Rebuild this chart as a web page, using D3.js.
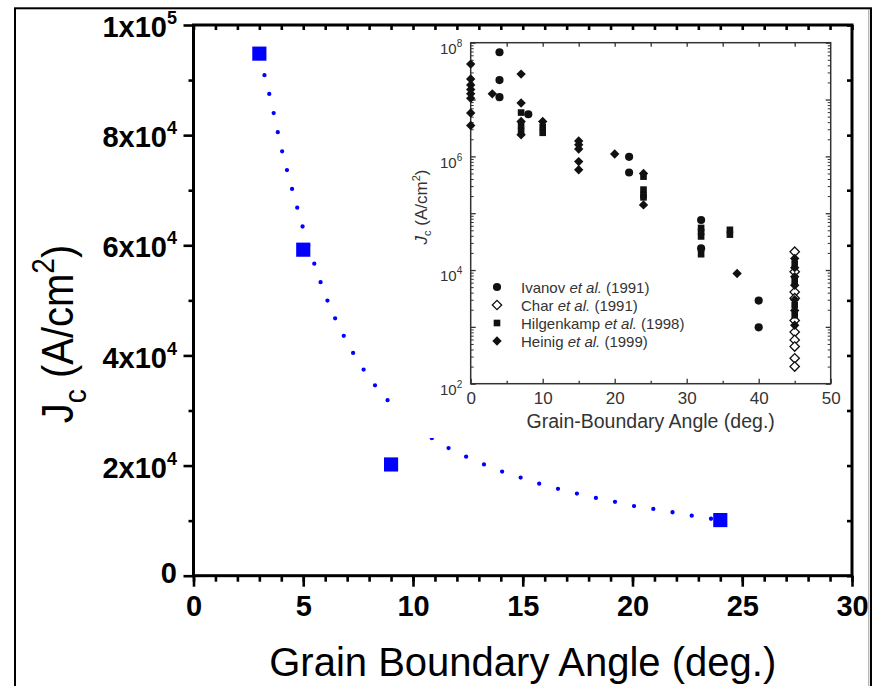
<!DOCTYPE html>
<html>
<head>
<meta charset="utf-8">
<script src="https://cdn.jsdelivr.net/npm/d3@7"></script>
<style>
body { margin: 0; background: #fff; }
svg { display: block; font-family: "Liberation Sans", Arial, Helvetica, sans-serif; }
</style>
</head>
<body>
<div id="chart-area"></div>
<script>
// main plot : Jc vs grain boundary angle
var angles = [3, 5, 9, 24];
var jcValues = [94800, 59200, 20200, 10100];

// dotted fit line
var fitAngles = [3, 3.5, 4, 4.5, 5, 5.5, 6, 7, 8, 9, 10, 11, 12, 13, 14, 15, 16, 17, 18, 19, 20, 21, 22, 23, 24];
var fitJc = [94300, 86700, 77700, 70100, 63000, 56700, 51000, 42400, 36000, 31200, 27600, 24600, 22400, 20600,
	19000, 17700, 16400, 15400, 14400, 13600, 12700, 12100, 11400, 10700, 10100];

var xTicks = [0, 5, 10, 15, 20, 25, 30];
var yTicks = [0, 20000, 40000, 60000, 80000, 100000];
var yTickText = ["0", "2x10", "4x10", "6x10", "8x10", "1x10"];
var yTickSup = ["", "4", "4", "4", "4", "5"];

// inset (log plot from literature)
var ivanovAngle = [4, 4, 4, 8, 22, 22, 32, 32, 40, 40];
var ivanovJc = [6.8e7, 2.2e7, 1.1e7, 5.5e6, 9.8e5, 5.2e5, 7.6e4, 2.4e4, 2.9e3, 9.8e2];

var charAngle = [45, 45, 45, 45, 45, 45, 45, 45, 45, 45];
var charJc = [2.1e4, 9.3e3, 4.1e3, 3.2e3, 1.3e3, 8.1e2, 5.9e2, 4.5e2, 2.8e2, 2.0e2];

var hilgenkampAngle = [7, 7, 7, 10, 10, 24, 24, 24, 24, 32, 32, 32, 32, 36, 36, 45, 45, 45, 45];
var hilgenkampJc = [5.9e6, 3.5e6, 2.8e6, 3.3e6, 2.6e6, 4.4e5, 2.6e5, 2.1e5, 1.9e5, 5.5e4, 4.7e4, 3.9e4, 1.9e4,
	5.1e4, 4.2e4, 1.3e4, 6.3e3, 2.4e3, 1.6e3];

var heinigAngle = [0, 0, 0, 0, 0, 0, 0, 0, 3, 7, 7, 7, 7, 10, 15, 15, 15, 15, 15, 20, 24, 24, 37,
	45, 45, 45, 45, 45, 45, 45];
var heinigJc = [4.2e7, 2.3e7, 1.8e7, 1.5e7, 1.26e7, 1.05e7, 5.8e6, 3.5e6, 1.26e7, 2.8e7, 8.7e6, 4.1e6, 2.4e6,
	4.1e6, 1.86e6, 1.6e6, 1.35e6, 8.1e5, 5.8e5, 1.1e6, 5.0e5, 1.4e5, 8.7e3,
	1.6e4, 1.1e4, 7.6e3, 5.4e3, 3.0e3, 1.95e3, 1.07e3];

var insetXTicks = [0, 10, 20, 30, 40, 50];
var insetYTicks = [1e2, 1e4, 1e6, 1e8];
var insetYSup = ["2", "4", "6", "8"];

var legendNames = ["Ivanov", "Char", "Hilgenkamp", "Heinig"];
var legendYears = ["(1991)", "(1991)", "(1998)", "(1999)"];

var width_svg = 880;
var height_svg = 686;

var svg = d3.select("#chart-area").append("svg")
	.attr("width", width_svg)
	.attr("height", height_svg);

// outer frame
svg.append("rect")
	.attr("x", 15).attr("y", 8.3)
	.attr("width", 856).attr("height", 720)
	.attr("fill", "none").attr("stroke", "#000").attr("stroke-width", 2);
svg.append("line")
	.attr("x1", 868.8).attr("x2", 868.8).attr("y1", 9).attr("y2", 686)
	.attr("stroke", "#999").attr("stroke-width", 1);

var x = d3.scaleLinear().domain([0, 30]).range([193.5, 852]);
var y = d3.scaleLinear().domain([0, 100000]).range([575.7, 25]);

// fit curve (dotted)
var fitLine = d3.line()
	.x(function(d, i){ return x(fitAngles[i]); })
	.y(function(d, i){ return y(fitJc[i]); })
	.curve(d3.curveMonotoneX);

svg.append("path")
	.datum(fitAngles)
	.attr("d", fitLine)
	.attr("fill", "none")
	.attr("stroke", "#0000ff")
	.attr("stroke-width", 4.3)
	.attr("stroke-linecap", "round")
	.attr("stroke-dasharray", "0 19.5");

// ---------- inset ----------
svg.append("rect")
	.attr("x", 398).attr("y", 30)
	.attr("width", 450).attr("height", 408)
	.attr("fill", "#fff");

var inset = svg.append("g");
var ink = "#333";

var ix = d3.scaleLinear().domain([0, 50]).range([470.7, 830.7]);
var iy = d3.scaleLog().domain([1e2, 1e8]).range([383.7, 42.7]);

function cleanAxis(g, col, sw){
	g.attr("font-family", null).attr("font-size", null);
	g.select(".domain").remove();
	g.selectAll(".tick line").attr("stroke", col).attr("stroke-width", sw);
}

inset.append("g")
	.attr("transform", "translate(0,383.7)")
	.call(d3.axisBottom(ix).tickValues(insetXTicks).tickSizeInner(-5).tickSizeOuter(0).tickPadding(8))
	.call(cleanAxis, ink, 1.3)
	.selectAll("text").attr("font-size", 17).attr("fill", ink);

inset.append("g")
	.attr("transform", "translate(0,383.7)")
	.call(d3.axisBottom(ix).tickValues([5, 15, 25, 35, 45]).tickSizeInner(-3).tickSizeOuter(0).tickFormat(""))
	.call(cleanAxis, ink, 1.3);

inset.append("g")
	.attr("transform", "translate(0,42.7)")
	.call(d3.axisTop(ix).tickValues([5, 10, 15, 20, 25, 30, 35, 40, 45]).tickSizeInner(-4).tickSizeOuter(0).tickFormat(""))
	.call(cleanAxis, ink, 1.3);

var majorLog = [];
var minorLog = [];
for (var p = 2; p < 8; p++) {
	majorLog.push(Math.pow(10, p));
	for (var k = 2; k < 10; k++) minorLog.push(k * Math.pow(10, p));
}
majorLog.push(1e8);

[["left", 470.7], ["right", 830.7]].forEach(function(s){
	var mk = s[0] == "left" ? d3.axisLeft : d3.axisRight;
	inset.append("g")
		.attr("transform", "translate(" + s[1] + ",0)")
		.call(mk(iy).tickValues(majorLog).tickSizeInner(-5).tickSizeOuter(0).tickFormat(""))
		.call(cleanAxis, ink, 1.3);
	inset.append("g")
		.attr("transform", "translate(" + s[1] + ",0)")
		.call(mk(iy).tickValues(minorLog).tickSizeInner(-3).tickSizeOuter(0).tickFormat(""))
		.call(cleanAxis, ink, 1);
});

// inset y tick labels 10^n
var iyLab = inset.append("g")
	.attr("transform", "translate(470.7,0)")
	.call(d3.axisLeft(iy).tickValues(insetYTicks).tickSize(0).tickPadding(8.5).tickFormat(""))
	.call(cleanAxis, ink, 0);
iyLab.selectAll("text")
	.attr("dy", "0.72em")
	.attr("font-size", 15)
	.attr("fill", ink)
	.each(function(d, i){
		var t = d3.select(this);
		t.append("tspan").text("10");
		t.append("tspan").attr("dy", -7).attr("font-size", 10).text(insetYSup[i]);
	});

inset.append("rect")
	.attr("x", ix(0)).attr("y", iy(1e8))
	.attr("width", ix(50) - ix(0)).attr("height", iy(1e2) - iy(1e8))
	.attr("fill", "none").attr("stroke", ink).attr("stroke-width", 1.5);

inset.append("text")
	.attr("x", (ix(0) + ix(50)) / 2).attr("y", 428)
	.attr("text-anchor", "middle")
	.attr("font-size", 19.5)
	.attr("fill", ink)
	.text("Grain-Boundary Angle (deg.)");

var iyTitle = inset.append("text")
	.attr("transform", "translate(427,207) rotate(-90)")
	.attr("text-anchor", "middle")
	.attr("font-size", 17)
	.attr("fill", ink);
iyTitle.append("tspan").attr("font-style", "italic").text("J");
iyTitle.append("tspan").attr("dy", 4).attr("font-size", 11).text("c");
iyTitle.append("tspan").attr("dy", -4).text(" (A/cm");
iyTitle.append("tspan").attr("dy", -7).attr("font-size", 11).text("2");
iyTitle.append("tspan").attr("dy", 7).text(")");

var circleSym = d3.symbol().type(d3.symbolCircle).size(52);
var squareSym = d3.symbol().type(d3.symbolSquare).size(44);
var diamondSym = d3.symbol().type(d3.symbolSquare).size(44);
var markFill = "#111";

inset.selectAll(".char")
	.data(charAngle)
	.enter()
	.append("path")
		.attr("class", "char")
		.attr("transform", function(d, i){ return "translate(" + ix(d) + "," + iy(charJc[i]) + ") rotate(45)"; })
		.attr("d", diamondSym)
		.attr("fill", "#fff")
		.attr("stroke", markFill)
		.attr("stroke-width", 1.3);

inset.selectAll(".hilg")
	.data(hilgenkampAngle)
	.enter()
	.append("path")
		.attr("class", "hilg")
		.attr("transform", function(d, i){ return "translate(" + ix(d) + "," + iy(hilgenkampJc[i]) + ")"; })
		.attr("d", squareSym)
		.attr("fill", markFill);

inset.selectAll(".heinig")
	.data(heinigAngle)
	.enter()
	.append("path")
		.attr("class", "heinig")
		.attr("transform", function(d, i){ return "translate(" + ix(d) + "," + iy(heinigJc[i]) + ") rotate(45)"; })
		.attr("d", diamondSym)
		.attr("fill", markFill);

inset.selectAll(".ivanov")
	.data(ivanovAngle)
	.enter()
	.append("path")
		.attr("class", "ivanov")
		.attr("transform", function(d, i){ return "translate(" + ix(d) + "," + iy(ivanovJc[i]) + ")"; })
		.attr("d", circleSym)
		.attr("fill", markFill);

// legend
var legendY = [287, 305, 323, 341];
legendNames.forEach(function(name, i){
	var sym, rot = "", fill = markFill, stroke = "none";
	if (i == 0) sym = circleSym;
	if (i == 1) { sym = diamondSym; rot = " rotate(45)"; fill = "#fff"; stroke = markFill; }
	if (i == 2) sym = squareSym;
	if (i == 3) { sym = diamondSym; rot = " rotate(45)"; }
	inset.append("path")
		.attr("transform", "translate(497," + legendY[i] + ")" + rot)
		.attr("d", sym)
		.attr("fill", fill)
		.attr("stroke", stroke)
		.attr("stroke-width", 1.3);
	var t = inset.append("text")
		.attr("x", 521).attr("y", legendY[i] + 5.5)
		.attr("font-size", 15)
		.attr("fill", ink);
	t.append("tspan").text(name + " ");
	t.append("tspan").attr("font-style", "italic").text("et al.");
	t.append("tspan").text(" " + legendYears[i]);
});

// ---------- main axes ----------
function mainAxis(g){
	g.attr("font-family", null).attr("font-size", null);
	g.select(".domain").remove();
	g.selectAll(".tick line").attr("stroke", "#000").attr("stroke-width", 2.6);
}

svg.append("g")
	.attr("transform", "translate(0,575.7)")
	.call(d3.axisBottom(x).tickValues(d3.range(0, 31, 1)).tickSizeInner(6).tickSizeOuter(0).tickFormat(""))
	.call(mainAxis);

svg.append("g")
	.attr("transform", "translate(0,575.7)")
	.call(d3.axisBottom(x).tickValues(xTicks).tickSizeInner(11).tickSizeOuter(0).tickPadding(8.5))
	.call(mainAxis)
	.selectAll("text")
		.attr("font-size", 29)
		.attr("font-weight", "bold")
		.attr("fill", "#000");

svg.append("g")
	.attr("transform", "translate(0,25)")
	.call(d3.axisTop(x).tickValues(d3.range(0, 31, 1)).tickSizeInner(-5).tickSizeOuter(0).tickFormat(""))
	.call(mainAxis);

svg.append("g")
	.attr("transform", "translate(193.5,0)")
	.call(d3.axisLeft(y).tickValues([10000, 30000, 50000, 70000, 90000]).tickSizeInner(5).tickSizeOuter(0).tickFormat(""))
	.call(mainAxis);

var yAxisG = svg.append("g")
	.attr("transform", "translate(193.5,0)")
	.call(d3.axisLeft(y).tickValues(yTicks).tickSizeInner(10).tickSizeOuter(0).tickPadding(6.5).tickFormat(""))
	.call(mainAxis);

yAxisG.selectAll(".tick text")
	.attr("font-size", 29)
	.attr("font-weight", "bold")
	.attr("fill", "#000")
	.attr("dy", function(d){ return d == 0 ? "0.22em" : "0.4em"; })
	.each(function(d, i){
		var t = d3.select(this);
		t.append("tspan").text(yTickText[i]);
		if (yTickSup[i] != "") {
			t.append("tspan").attr("dy", -13).attr("font-size", 18).text(yTickSup[i]);
		}
	});

svg.append("g")
	.attr("transform", "translate(852,0)")
	.call(d3.axisRight(y).tickValues(d3.range(0, 100001, 10000)).tickSizeInner(-5).tickSizeOuter(0).tickFormat(""))
	.call(mainAxis);

svg.append("rect")
	.attr("x", x(0)).attr("y", y(100000))
	.attr("width", x(30) - x(0)).attr("height", y(0) - y(100000))
	.attr("fill", "none").attr("stroke", "#000").attr("stroke-width", 3);

// data squares
svg.selectAll(".pt")
	.data(angles)
	.enter()
	.append("path")
		.attr("class", "pt")
		.attr("transform", function(d, i){ return "translate(" + x(d) + "," + y(jcValues[i]) + ")"; })
		.attr("d", d3.symbol().type(d3.symbolSquare).size(200))
		.attr("fill", "#0000ff");

// axis titles
svg.append("text")
	.attr("x", (x(0) + x(30)) / 2).attr("y", 676)
	.attr("text-anchor", "middle")
	.attr("font-size", 40)
	.attr("fill", "#000")
	.text("Grain Boundary Angle (deg.)");

var ylab = svg.append("text")
	.attr("transform", "translate(73,334) rotate(-90) scale(1,1.12)")
	.attr("text-anchor", "middle")
	.attr("font-size", 40)
	.attr("fill", "#000");
ylab.append("tspan").text("J");
ylab.append("tspan").attr("dy", 12).attr("font-size", 28).text("c");
ylab.append("tspan").attr("dy", -12).text(" (A/cm");
ylab.append("tspan").attr("dy", -17).attr("font-size", 28).text("2");
ylab.append("tspan").attr("dy", 17).text(")");
</script>
</body>
</html>
